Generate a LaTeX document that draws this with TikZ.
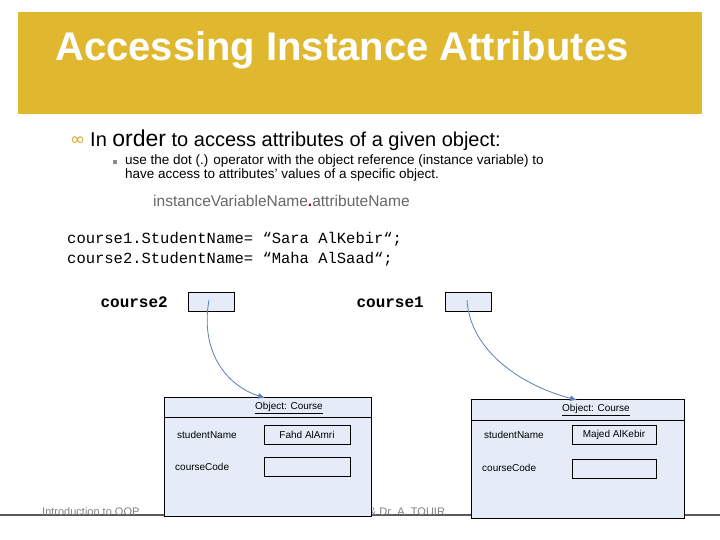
\documentclass[tikz,border=0pt]{standalone}
\usepackage{fontspec}
\setmainfont{Liberation Sans}
\setmonofont{Liberation Mono}
\newfontfamily\symfont{DejaVu Sans}
\usetikzlibrary{arrows.meta}
\definecolor{gold}{HTML}{E0B830}
\definecolor{objfill}{HTML}{E6ECF7}
\definecolor{linkblue}{HTML}{5A7EB5}
\tikzset{
  varbox/.style={draw,fill=objfill,minimum width=46pt,minimum height=19pt,inner sep=0pt},
  objbox/.style={draw,fill=objfill},
  valbox/.style={draw,fill=objfill,minimum width=86pt,minimum height=19pt,inner sep=0pt,font=\fontsize{10}{12}\selectfont},
  fieldtxt/.style={anchor=west,inner sep=0pt,font=\fontsize{10}{12}\selectfont},
  link/.style={draw=linkblue,line width=0.8pt,-{Latex[length=7pt,width=6pt]}},
  foot/.style={inner sep=0pt,font=\fontsize{11}{13}\selectfont,text=black!50}
}
\begin{document}
\begin{tikzpicture}[x=1pt,y=-1pt]
\useasboundingbox (0,0) rectangle (720,540);
% header
\fill[gold] (18,12) rectangle (702,114);
\node[anchor=west,inner sep=0pt,text=white,font=\fontsize{40}{44}\selectfont\bfseries] (title) at (55,50) {Accessing Instance Attributes};
% bullets
\node[anchor=west,inner sep=0pt,text=gold!70!brown,font=\symfont\fontsize{18}{20}\selectfont] (b1) at (70,141) {∞};
\node[anchor=west,inner sep=0pt,font=\fontsize{20}{22}\selectfont] (l1) at (90,140) {In {\fontsize{23}{24}\selectfont order} to access attributes of a given object:};
\fill[black!45] (113,160) rectangle (117,164);
\node[anchor=north west,inner sep=0pt,align=left,font=\fontsize{13.5}{12.5}\selectfont] (l2) at (125,155) {use the dot (.) operator with the object reference (instance variable) to\\have access to attributes' values of a specific object.};
\node[anchor=west,inner sep=0pt,text=black!60,font=\fontsize{15.5}{16}\selectfont] (syn) at (153,201) {instanceVariableName{\color{red!70!black}\bfseries .}attributeName};
% code
\node[anchor=north west,inner sep=0pt,align=left,font=\ttfamily\fontsize{15.5}{20}\selectfont] (code) at (67,232) {course1.StudentName= “Sara AlKebir“;\\course2.StudentName= “Maha AlSaad“;};
% reference variables
\node[anchor=east,inner sep=0pt,font=\ttfamily\bfseries\fontsize{16}{16}\selectfont] (c2lab) at (168,302) {course2};
\node[varbox] (c2) at (211,302) {};
\node[anchor=east,inner sep=0pt,font=\ttfamily\bfseries\fontsize{16}{16}\selectfont] (c1lab) at (424,302) {course1};
\node[varbox] (c1) at (468,302) {};
\coordinate (c2p) at (209,300);
\coordinate (c1p) at (467,300);
% footer
\draw[black!65,line width=1.5pt] (0,515) -- (720,515);
\node[foot,anchor=west] (f1) at (42,512) {Introduction to OOP};
\node[foot] (f2) at (360,512) {Dr. S. GANNOUNI \& Dr. A. TOUIR};
\node[foot,anchor=east] (f3) at (677,512) {Page 15};
% objects
\draw[objbox] (164,397) rectangle (371,516);
\draw (164,417) -- (371,417);
\node[inner sep=0pt,font=\fontsize{10}{12}\selectfont] (o2t) at (289,408) {\underline{Object: Course}};
\node[fieldtxt] (o2n) at (177,435) {studentName};
\node[valbox] (o2nv) at (307,435) {Fahd AlAmri};
\node[fieldtxt] (o2c) at (175,467) {courseCode};
\node[valbox] (o2cv) at (307,467) {};
\draw[objbox] (471,399) rectangle (684,518);
\draw (471,420) -- (684,420);
\node[inner sep=0pt,font=\fontsize{10}{12}\selectfont] (o1t) at (596,410) {\underline{Object: Course}};
\node[fieldtxt] (o1n) at (484,435) {studentName};
\node[valbox,minimum width=84pt] (o1nv) at (614,435) {Majed AlKebir};
\node[fieldtxt] (o1c) at (482,468) {courseCode};
\node[valbox,minimum width=84pt] (o1cv) at (614,469) {};
\coordinate (o2top) at (265,398);
\coordinate (o1top) at (577,400);
\draw[link] (c2p) .. controls (200,350) and (225,385) .. (o2top);
\draw[link] (c1p) .. controls (470,350) and (520,385) .. (o1top);
\end{tikzpicture}
\end{document}
